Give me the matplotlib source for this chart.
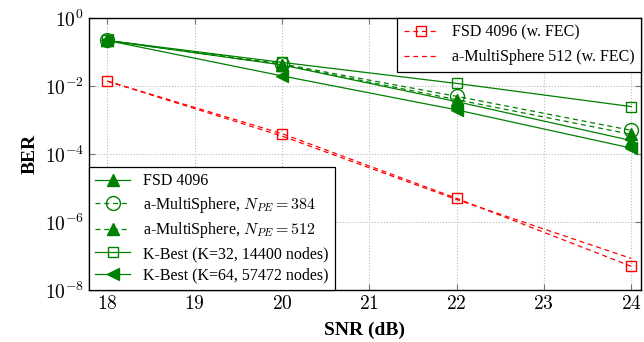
import numpy as np
import matplotlib.pyplot as plt

plt.rcParams['font.family'] = 'serif'
plt.rcParams['font.serif'] = ['Liberation Serif', 'DejaVu Serif']
plt.rcParams['mathtext.fontset'] = 'cm'

snr = [18, 20, 22, 24]

# green curves (no FEC)
fsd4096 = [0.22, 0.042, 3.5e-3, 2.5e-4]
ms384 = [0.22, 0.045, 5e-3, 5e-4]
ms512 = [0.22, 0.043, 4e-3, 3.8e-4]
kbest32 = [0.22, 0.05, 1.2e-2, 2.5e-3]
kbest64 = [0.22, 0.02, 2e-3, 1.5e-4]

# red curves (with FEC)
fsd4096_fec = [0.014, 4e-4, 5e-6, 5e-8]
ms512_fec = [0.014, 3.4e-4, 4.6e-6, 8.5e-8]

g = '#008000'
r = '#ff0000'

fig = plt.figure(figsize=(6.44, 3.42), dpi=100)
ax = fig.add_axes([0.138, 0.152, 0.857, 0.795])

h1, = ax.plot(snr, fsd4096, '-', color=g, lw=0.9, marker='^', ms=8, mfc=g, mec=g)
h2, = ax.plot(snr, ms384, '--', color=g, lw=0.9, marker='o', ms=10, mfc='none', mec=g, dashes=(4, 3))
h3, = ax.plot(snr, ms512, '--', color=g, lw=0.9, marker='^', ms=8, mfc=g, mec=g, dashes=(4, 3))
h4, = ax.plot(snr, kbest32, '-', color=g, lw=0.9, marker='s', ms=7, mfc='none', mec=g)
h5, = ax.plot(snr, kbest64, '-', color=g, lw=0.9, marker='<', ms=8, mfc=g, mec=g)
r1, = ax.plot(snr, fsd4096_fec, '--', color=r, lw=0.9, marker='s', ms=7, mfc='none', mec=r, dashes=(4, 3))
r2, = ax.plot(snr, ms512_fec, '--', color=r, lw=0.9, dashes=(4, 3))

ax.set_yscale('log')
ax.set_xlim(17.79, 24.11)
ax.set_ylim(1e-8, 1)
ax.set_xticks(range(18, 25))
ax.set_xticklabels(['$%d$' % v for v in range(18, 25)])
ax.set_yticks([1, 1e-2, 1e-4, 1e-6, 1e-8])
ax.set_yticklabels(['$10^{0}$', '$10^{-2}$', '$10^{-4}$', '$10^{-6}$', '$10^{-8}$'])
ax.minorticks_off()
ax.tick_params(direction='in', top=True, right=True, labelsize=14, length=4, color='#777777')
ax.grid(True, ls=':', color='#bbbbbb', lw=0.8)
for s in ax.spines.values():
    s.set_linewidth(1.0)

ax.set_xlabel('SNR (dB)', fontsize=14, fontweight='bold', labelpad=6)
ax.set_ylabel('BER', fontsize=14, fontweight='bold')

leg1 = ax.legend([r1, r2], ['FSD 4096 (w. FEC)', 'a-MultiSphere 512 (w. FEC)'],
                 loc='upper right', fontsize=11.5, fancybox=False, edgecolor='black',
                 framealpha=1, borderaxespad=0, handlelength=2.2, labelspacing=0.55)
leg1.get_frame().set_linewidth(0.9)
ax.add_artist(leg1)
leg2 = ax.legend([h1, h2, h3, h4, h5],
                 ['FSD 4096', 'a-MultiSphere, $N_{PE}=384$', 'a-MultiSphere, $N_{PE}=512$',
                  'K-Best (K=32, 14400 nodes)', 'K-Best (K=64, 57472 nodes)'],
                 loc='lower left', fontsize=11.5, fancybox=False, edgecolor='black',
                 framealpha=1, borderaxespad=0, handlelength=2.2, labelspacing=0.35)
leg2.get_frame().set_linewidth(0.9)

fig.savefig('out.png', dpi=100)
